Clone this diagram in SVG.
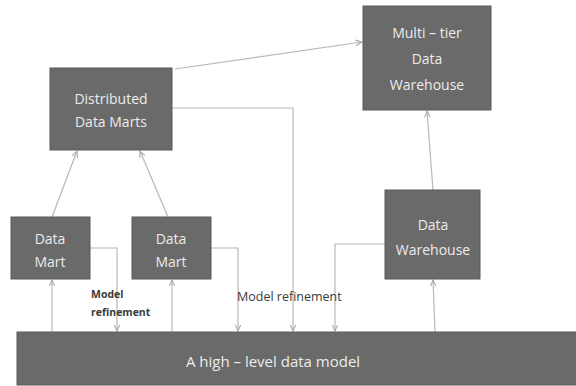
<svg xmlns="http://www.w3.org/2000/svg" width="576" height="386" viewBox="0 0 576 386">
<style>
.box{fill:#6a6a6a;stroke:#5a5a5a;stroke-width:1}
.bt{font-family:"Open Sans","Liberation Sans",sans-serif;font-size:14px;fill:#ececec;text-anchor:middle}
.c{fill:none;stroke:#b8b8b8;stroke-width:1.2}
.lbl{font-family:"Open Sans","Liberation Sans",sans-serif;font-size:12.5px;fill:#3a3a3a}
</style>
<defs>
<marker id="a" viewBox="0 0 10 10" refX="9" refY="5" markerWidth="7" markerHeight="7" orient="auto-start-reverse" markerUnits="userSpaceOnUse">
<path d="M0,1 L9,5 L0,9" fill="none" stroke="#a8a8a8" stroke-width="1.5"/>
</marker>
</defs>
<rect width="576" height="386" fill="#ffffff"/>
<g id="connectors">
<line class="c" x1="175" y1="69" x2="362" y2="42" marker-end="url(#a)"/>
<polyline class="c" points="172,108 293,108 293,331" marker-end="url(#a)"/>
<line class="c" x1="52" y1="217" x2="77" y2="151" marker-end="url(#a)"/>
<line class="c" x1="168" y1="217" x2="140" y2="151" marker-end="url(#a)"/>
<line class="c" x1="433" y1="190" x2="427" y2="111" marker-end="url(#a)"/>
<polyline class="c" points="90,248 117,248 117,331" marker-end="url(#a)"/>
<line class="c" x1="52" y1="332" x2="52" y2="280" marker-end="url(#a)"/>
<line class="c" x1="172" y1="332" x2="172" y2="280" marker-end="url(#a)"/>
<polyline class="c" points="211,248 238,248 238,331" marker-end="url(#a)"/>
<polyline class="c" points="385,244 335,244 335,331" marker-end="url(#a)"/>
<line class="c" x1="435" y1="332" x2="433" y2="280" marker-end="url(#a)"/>
</g>
<g id="multi-tier">
<rect class="box" x="363" y="6" width="128" height="104"/>
<text class="bt" x="427" y="38">Multi – tier</text>
<text class="bt" x="427" y="64">Data</text>
<text class="bt" x="427" y="90">Warehouse</text>
</g>
<g id="distributed">
<rect class="box" x="50" y="68" width="122" height="82"/>
<text class="bt" x="111" y="104">Distributed</text>
<text class="bt" x="111" y="127">Data Marts</text>
</g>
<g id="datamart1">
<rect class="box" x="11" y="217" width="79" height="62"/>
<text class="bt" x="50" y="244">Data</text>
<text class="bt" x="50" y="267">Mart</text>
</g>
<g id="datamart2">
<rect class="box" x="132" y="217" width="79" height="62"/>
<text class="bt" x="171" y="244">Data</text>
<text class="bt" x="171" y="267">Mart</text>
</g>
<g id="datawarehouse">
<rect class="box" x="385" y="190" width="95" height="89"/>
<text class="bt" x="433" y="230">Data</text>
<text class="bt" x="433" y="255">Warehouse</text>
</g>
<g id="highlevel">
<rect class="box" x="17" y="332" width="562" height="53"/>
<text class="bt" x="273" y="367" style="font-size:15px">A high – level data model</text>
</g>
<g id="labels">
<text class="lbl" x="91" y="298" style="font-weight:bold;font-size:10.5px">Model</text>
<text class="lbl" x="91" y="316" style="font-weight:bold;font-size:10.5px">refinement</text>
<text class="lbl" x="237" y="301">Model refinement</text>
</g>
</svg>
